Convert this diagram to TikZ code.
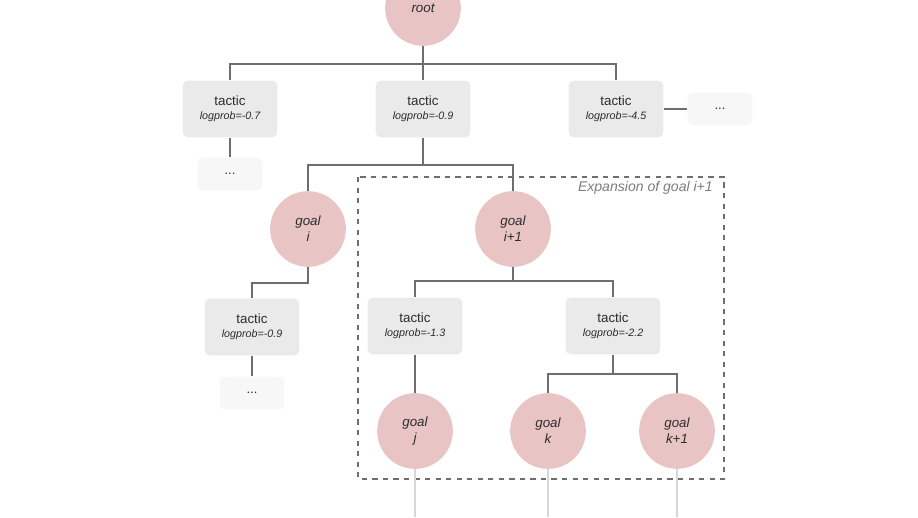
\documentclass[tikz,border=0pt]{standalone}
\usepackage{fontspec}
\setmainfont{Liberation Sans}
\definecolor{goalpink}{RGB}{233,196,196}
\definecolor{tacgray}{RGB}{234,234,234}
\definecolor{dotgray}{RGB}{247,247,247}
\definecolor{linegray}{RGB}{110,110,110}
\definecolor{fadegray}{RGB}{215,215,215}
\definecolor{txt}{RGB}{45,45,45}
\definecolor{exptxt}{RGB}{125,125,125}
\newlength{\pxu}
\setlength{\pxu}{0.567pt}
\tikzset{
  goal/.style={circle, fill=goalpink, minimum size=76\pxu, inner sep=0pt, align=center,
    font=\fontsize{7.6}{9.2}\selectfont\itshape, text=txt},
  tacbox/.style={rectangle, rounded corners=3pt, fill=tacgray, minimum width=95\pxu, minimum height=57\pxu,
    inner sep=0pt, align=center, text=txt},
  dotbox/.style={rectangle, rounded corners=3pt, fill=dotgray, minimum width=65\pxu, minimum height=33\pxu,
    inner sep=0pt, font=\fontsize{7.4}{8.6}\selectfont, text=txt},
  conn/.style={draw=linegray, line width=1.1pt},
  fade/.style={draw=fadegray, line width=1.1pt},
}
\newcommand{\tac}[1]{{\fontsize{7.6}{8.6}\selectfont tactic}\\[-4pt]{\fontsize{6.1}{7}\selectfont\itshape logprob=#1}}
\begin{document}
\begin{tikzpicture}[x=0.02cm, y=-0.02cm]
\useasboundingbox (0,0) rectangle (918,517);
\clip (0,0) rectangle (918,517);
% dashed expansion box
\draw[dashed, draw=linegray, line width=0.7pt] (358,177) rectangle (724,479);
\node[anchor=east, font=\fontsize{8}{9}\selectfont\itshape, text=exptxt] (exp) at (719,188) {Expansion of goal i+1};
% nodes
\node[goal] (root) at (423,8) {root};
\node[tacbox] (t1) at (230,109) {\tac{-0.7}};
\node[tacbox] (t2) at (423,109) {\tac{-0.9}};
\node[tacbox] (t3) at (616,109) {\tac{-4.5}};
\node[dotbox] (d3) at (720,109) {...};
\node[dotbox] (d1) at (230,174) {...};
\node[goal] (gi) at (308,229) {goal\\i};
\node[goal] (gi1) at (513,229) {goal\\i+1};
\node[tacbox] (t4) at (252,327) {\tac{-0.9}};
\node[dotbox] (d4) at (252,393) {...};
\node[tacbox] (t5) at (415,326) {\tac{-1.3}};
\node[tacbox] (t6) at (613,326) {\tac{-2.2}};
\node[goal] (gj) at (415,431) {goal\\j};
\node[goal] (gk) at (548,431) {goal\\k};
\node[goal] (gk1) at (677,431) {goal\\k+1};
% bus coordinates
\coordinate (b1) at (0,64);
\coordinate (b2) at (0,165);
\coordinate (b3) at (0,283);
\coordinate (b4) at (0,281);
\coordinate (b5) at (0,374);
\coordinate (ej) at (415,517);
\coordinate (ek) at (548,517);
\coordinate (ek1) at (677,517);
% connectors
\draw[conn] (root.south) -- (root.south |- b1) -| (t1.north);
\draw[conn] (root.south |- b1) -| (t3.north);
\draw[conn] (root.south) -- (t2.north);
\draw[conn] (t3.east) -- (d3.west);
\draw[conn] (t1.south) -- (d1.north);
\draw[conn] (t2.south) -- (t2.south |- b2) -| (gi.north);
\draw[conn] (t2.south |- b2) -| (gi1.north);
\draw[conn] (gi.south) -- (gi.south |- b3) -| (t4.north);
\draw[conn] (t4.south) -- (d4.north);
\draw[conn] (gi1.south) -- (gi1.south |- b4) -| (t5.north);
\draw[conn] (gi1.south |- b4) -| (t6.north);
\draw[conn] (t5.south) -- (gj.north);
\draw[conn] (t6.south) -- (t6.south |- b5) -| (gk.north);
\draw[conn] (t6.south |- b5) -| (gk1.north);
\draw[fade] (gj.south) -- (ej);
\draw[fade] (gk.south) -- (ek);
\draw[fade] (gk1.south) -- (ek1);
\end{tikzpicture}
\end{document}
